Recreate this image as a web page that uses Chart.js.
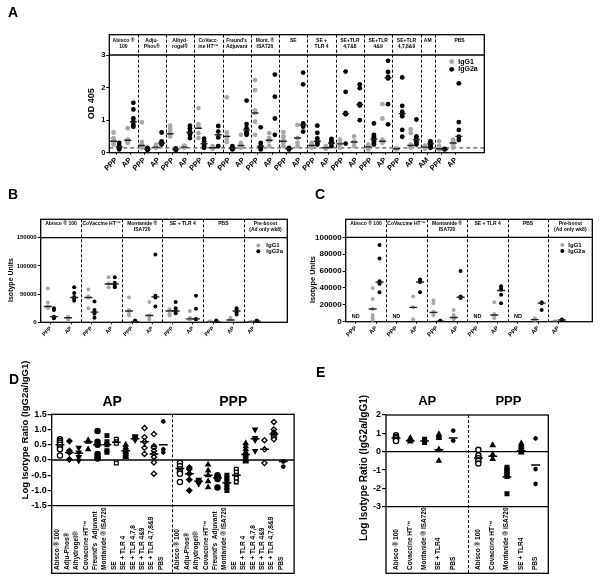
<!DOCTYPE html>
<html>
<head>
<meta charset="utf-8">
<title>Isotype responses</title>
<script src="https://cdn.jsdelivr.net/npm/chart.js@4.4.1/dist/chart.umd.min.js"></script>
<style>
  html, body { margin: 0; padding: 0; background: #fff; }
  #page { position: relative; width: 600px; height: 581px; overflow: hidden; }
  canvas { position: absolute; }
  .tag { position: absolute; font: bold 14px "Liberation Sans", Arial, sans-serif; line-height: 1; }
</style>
</head>
<body>
<div id="page">
  <canvas id="chartA" width="600" height="180" style="left:0;top:0"></canvas>
  <canvas id="chartB" width="300" height="160" style="left:0;top:180px"></canvas>
  <canvas id="chartC" width="300" height="160" style="left:300px;top:180px"></canvas>
  <canvas id="chartD" width="300" height="241" style="left:0;top:340px"></canvas>
  <canvas id="chartE" width="300" height="241" style="left:300px;top:340px"></canvas>
  <div class="tag" style="left:8px;top:5px">A</div>
  <div class="tag" style="left:8px;top:187px">B</div>
  <div class="tag" style="left:315px;top:187px">C</div>
  <div class="tag" style="left:9px;top:372px">D</div>
  <div class="tag" style="left:316px;top:365px">E</div>
</div>
<script>
const FONT = '"Liberation Sans", Arial, sans-serif';
const GREY = '#a8a8a8';
Chart.defaults.font.family = FONT;
Chart.defaults.color = '#000';

// ---- A: OD 405, one column per group x antigen ----
const aGroups = ['Abisco ®\n100', 'Adju-\nPhos®', 'Alhyd-\nrogel®', 'CoVacc-\nine HT™', "Freund's\nAdjuvant",
  'Mont. ®\nISA720', 'SE', 'SE +\nTLR 4', 'SE+TLR\n4,7&8', 'SE+TLR\n4&9', 'SE+TLR\n4,7,8&9', 'AM', 'PBS'];
const aGroupSizes = [2, 2, 2, 2, 2, 2, 2, 2, 2, 2, 2, 1, 2];
const aColumns = ['PPP', 'AP', 'PPP', 'AP', 'PPP', 'AP', 'PPP', 'AP', 'PPP', 'AP', 'PPP', 'AP', 'PPP', 'AP',
  'PPP', 'AP', 'PPP', 'AP', 'PPP', 'AP', 'PPP', 'AP', 'AM', 'PPP', 'AP'];
const aIgG1 = [
  [0.62, 0.45, 0.40, 0.35, 0.30, 0.25], [0.75, 0.40, 0.35, 0.30],
  [0.93, 0.33, 0.25, 0.20, 0.15], [0.25, 0.20, 0.15],
  [0.83, 0.75, 0.65, 0.55, 0.50], [0.22, 0.18, 0.15],
  [1.37, 0.88, 0.82, 0.60, 0.45], [0.20, 0.15, 0.12],
  [1.70, 0.62, 0.50, 0.42, 0.33], [0.55, 0.30, 0.20, 0.15],
  [2.23, 1.92, 1.30, 1.22, 0.95, 0.55], [0.60, 0.45, 0.35, 0.20],
  [0.63, 0.50, 0.42, 0.35, 0.30, 0.20], [0.85, 0.45, 0.30, 0.20],
  [0.30, 0.25, 0.20, 0.15], [0.20, 0.15, 0.12],
  [0.40, 0.30, 0.20, 0.15], [0.50, 0.35, 0.30, 0.20],
  [0.25, 0.20, 0.15, 0.10], [1.49, 1.05, 0.40, 0.35, 0.30],
  [0.15, 0.12, 0.10], [0.72, 0.60, 0.25, 0.20, 0.15],
  [0.22, 0.18, 0.15, 0.12],
  [0.35, 0.20, 0.15, 0.10], [0.40, 0.35, 0.25, 0.20, 0.15]
];
const aIgG2a = [
  [0.30, 0.22, 0.18, 0.14, 0.10], [1.53, 1.33, 1.05, 0.95, 0.85, 0.80],
  [0.15, 0.12, 0.10, 0.08], [0.62, 0.35, 0.30, 0.28, 0.25],
  [0.13, 0.10, 0.08], [0.83, 0.75, 0.65, 0.60, 0.55, 0.45],
  [0.43, 0.35, 0.25, 0.20, 0.15], [0.82, 0.65, 0.47, 0.20],
  [0.20, 0.15, 0.12, 0.10], [1.60, 0.88, 0.75, 0.65, 0.60, 0.55],
  [0.78, 0.30, 0.20, 0.15, 0.10], [2.40, 1.72, 1.05, 0.55],
  [0.15, 0.12, 0.10], [2.46, 2.10, 0.90, 0.80, 0.65],
  [0.83, 0.61, 0.44, 0.35, 0.30, 0.25], [0.42, 0.38, 0.32, 0.28, 0.20],
  [2.49, 1.87, 1.22, 1.18, 0.28], [2.10, 1.98, 1.50, 1.45, 1.00],
  [0.90, 0.55, 0.50, 0.45, 0.40, 0.35, 0.30, 0.25], [2.82, 2.48, 2.33, 2.28, 1.49, 0.87],
  [2.31, 1.44, 1.26, 1.20, 1.12, 0.70, 0.49], [1.02, 0.50, 0.45, 0.35, 0.30, 0.25],
  [0.35, 0.30, 0.25, 0.20, 0.15],
  [0.12, 0.10], [2.13, 0.94, 0.70, 0.49, 0.39]
];
const aIgG1Median = [0.35, 0.38, 0.22, 0.17, 0.58, 0.17, 0.75, 0.15, 0.50, 0.22, 1.22, 0.38,
  0.35, 0.45, 0.22, 0.15, 0.27, 0.33, 0.18, 0.35, 0.12, 0.22, 0.17, 0.12, 0.30];
const aIgG2aMedian = [0.18, 0.95, 0.11, 0.30, 0.10, 0.62, 0.28, 0.55, 0.13, 0.70, 0.20, null,
  0.12, 0.85, 0.35, 0.30, 1.20, 1.48, 0.42, 2.30, 1.20, 0.40, 0.27, 0.10, 0.50];
const aCutoff = 0.15;

// ---- B: isotype units, week 6 ----
const bGroups = ['Abisco ® 100', 'CoVaccine HT™', 'Montanide ®\nISA720', 'SE + TLR 4', 'PBS', 'Pre-boost\n(Ad only wk8)'];
const bGroupSizes = [2, 2, 2, 2, 2, 1];
const bColumns = ['PPP', 'AP', 'PPP', 'AP', 'PPP', 'AP', 'PPP', 'AP', 'PPP', 'AP', 'AP'];
const bIgG1 = [
  [60000, 35000, 28000, 25000], [10000, 8000, 5000],
  [58000, 46000, 44000, 25000], [80000, 69000, 62000],
  [44000, 22000, 15000, 12000], [36000, 12000, 8000, 5000],
  [23000, 15000, 12000], [20000, 8000, 5000, 4000],
  [2000, 1000, 500], [8000, 5000, 3000],
  [1000, 500]
];
const bIgG2a = [
  [25000, 22000, 10000, 8000, 7000], [62000, 52000, 45000, 42000, 38000],
  [37000, 22000, 18000, 15000, 8000], [80000, 70000, 65000, 62000],
  [3000, 1000, 500], [120000, 47000, 44000, 28000],
  [36000, 25000, 20000, 16000], [47000, 24000, 6000, 5000],
  [3000, 1500, 500], [25000, 22000, 18000, 14000],
  [3000, 2000, 1500]
];
const bIgG1Median = [28000, 8000, 44000, 68000, 20000, 12000, 20000, 6000, 500, 4000, 500];
const bIgG2aMedian = [10000, 44000, 18000, 68000, 1000, 45000, 20000, 6000, 1000, 20000, 2000];

// ---- C: isotype units, later bleed ----
const cGroups = bGroups;
const cGroupSizes = bGroupSizes;
const cColumns = bColumns;
const cIgG1 = [
  [], [40000, 27000, 15000, 8000, 5000, 2000],
  [], [30000, 17000, 3000],
  [25000, 22000, 12000, 10000, 8000], [14000, 8000, 5000, 3000],
  [], [23000, 9000, 7000, 4000],
  [], [4000, 2000],
  [500, 0]
];
const cIgG2a = [
  [], [91000, 75000, 48000, 46000, 45000, 35000],
  [], [50000, 48000, 47000, 35000],
  [1000, 500], [60000, 30000, 29000, 28000],
  [], [42000, 40000, 38000, 32000, 22000],
  [], [23000, 22000, 14000],
  [2500, 1500]
];
const cIgG1Median = [null, 15000, null, 17000, 11000, 5000, null, 8000, null, 2500, 300];
const cIgG2aMedian = [null, 47000, null, 47000, 500, 29000, null, 37000, null, 22000, 2000];
const cNotDone = [0, 2, 6, 8];
const cNotDoneLevel = 6000;

// ---- D: log isotype ratio, all adjuvants ----
const dSides = ['AP', 'PPP'];
const dLabels = ['Abisco ® 100', 'Adju-Phos®', 'Alhydrogel®', 'Covaccine HT™', "Freund's  Adjuvant",
  'Montanide ® ISA720', 'SE', 'SE + TLR 4', 'SE + TLR 4,7,8', 'SE + TLR 4&9', 'SE + TLR 4,7,8&9', 'PBS'];
const dRatio = [
  [0.68, 0.62, 0.57, 0.50, 0.42, 0.35, 0.15], [0.62, 0.30, 0.25, 0.02], [0.40, 0.25, 0.10, -0.02],
  [0.65, 0.60, 0.35], [0.95, 0.60, 0.50, 0.20, 0.10, 0.05], [0.80, 0.60, 0.50, 0.30, 0.25],
  [0.68, 0.60, 0.55, -0.10], [0.50, 0.42, 0.36, 0.30, 0.25, 0.20, 0.15, 0.10], [0.78, 0.74, 0.70, 0.65],
  [1.05, 0.75, 0.60, 0.40, 0.20], [0.85, 0.45, 0.40, 0.30, 0.20, 0.10, -0.08, -0.45], [1.27, 0.35, 0.25],
  [-0.10, -0.20, -0.30, -0.40, -0.45, -0.72], [-0.25, -0.30, -0.45, -0.65, -1.00], [-0.65, -0.70, -0.78],
  [-0.15, -0.35, -0.50, -0.70, -0.90], [-0.50, -0.55, -0.62, -0.90], [-0.50, -0.60, -0.70, -0.80, -0.90, -1.00],
  [-0.30, -0.40, -0.50, -0.60, -0.72], [0.55, 0.45, 0.35, 0.25, 0.18, 0.12, 0.05, 0.00, -0.05], [1.00, 0.72, 0.65, 0.30],
  [0.65, 0.35, -0.10], [1.25, 1.00, 0.90, 0.85, 0.80, 0.75, 0.68], [-0.05, -0.22]
];
const dMedian = [0.50, 0.25, 0.22, 0.60, 0.50, 0.50, 0.58, 0.30, 0.70, 0.60, 0.20, 0.50,
  -0.28, -0.45, -0.70, -0.50, -0.58, -0.75, -0.50, 0.18, 0.70, 0.35, 0.85, -0.05];

// ---- E: log isotype ratio, selected adjuvants ----
const eSides = ['AP', 'PPP'];
const eLabels = ['Abisco ® 100', 'Covaccine HT™', 'Montanide ® ISA720', 'SE + TLR4', 'PBS'];
const eRatio = [
  [0.90, 0.80, 0.75, 0.65, 0.58], [0.75, 0.65, 0.55], [0.68, 0.60, 0.50], [0.95, 0.85, 0.75, 0.12, -0.50], [1.15, 0.60],
  [0.10, -0.20, -0.35, -0.50, -0.65], [0.35, -0.15, -0.40], [-0.85, -0.95, -1.05, -1.15, -1.25, -1.35, -2.30],
  [0.45, 0.35, 0.25, 0.15, 0.05, -0.05], [0.73, -0.95, -1.76]
];
const eMedian = [0.75, 0.60, 0.58, 0.10, 0.75, -0.35, -0.25, -1.38, 0.05, -0.73];

// marker per adjuvant (same on both sides)
const dMarkers = [
  { style: 'circle', fill: false }, { style: 'rectRot', fill: true }, { style: 'triangle', fill: true, rot: 180 },
  { style: 'triangle', fill: true }, { style: 'circle', fill: true }, { style: 'rect', fill: true },
  { style: 'rect', fill: false }, { style: 'triangle', fill: true }, { style: 'triangle', fill: true, rot: 180 },
  { style: 'rectRot', fill: false }, { style: 'rectRot', fill: false }, { style: 'star', fill: false }
];
const eMarkers = [
  { style: 'circle', fill: false }, { style: 'triangle', fill: true }, { style: 'rect', fill: true },
  { style: 'triangle', fill: true }, { style: 'star', fill: false }
];

function edgesFrom(sizes, max) {
  const e = [0];
  sizes.forEach(s => e.push(e[e.length - 1] + s));
  e[e.length - 1] = max;
  return e;
}

function dotDatasets(g1, g2, m1, m2, shift, r, mr) {
  const pts = (cols, dx) => cols.flatMap((vals, i) => vals.map(v => ({ x: i + 0.5 + dx, y: v })));
  const med = (arr, dx) => arr.map((v, i) => v === null ? null : { x: i + 0.5 + dx, y: v }).filter(Boolean);
  const dot = (data, c) => ({ data, pointRadius: r, pointBackgroundColor: c, pointBorderColor: c, pointBorderWidth: 0 });
  const line = data => ({ data, order: -1, pointStyle: 'line', pointRadius: mr, pointBorderColor: '#222', pointBorderWidth: 1.4 });
  return [dot(pts(g1, -shift), GREY), dot(pts(g2, shift), '#000'), line(med(m1, -shift)), line(med(m2, shift))];
}

function dotOptions(o) {
  return {
    responsive: false, animation: false, events: [],
    layout: { padding: o.padding },
    plugins: { legend: { display: false }, tooltip: { enabled: false } },
    scales: {
      x: {
        type: 'linear', min: 0, max: o.xMax,
        afterBuildTicks: s => { s.ticks = o.columns.map((_, i) => ({ value: i + 0.5 })); },
        afterFit: s => { s.height = o.xHeight; },
        ticks: { autoSkip: false, minRotation: 45, maxRotation: 45, padding: 1, color: '#000',
          font: { size: o.xFont, weight: 'bold' }, callback: (v, i) => o.columns[i] },
        grid: { drawOnChartArea: false, tickLength: 2, color: '#000' },
        border: { display: false }
      },
      y: {
        min: 0, max: o.yMax,
        afterFit: s => { s.width = o.yWidth; },
        ticks: { stepSize: o.yStep, padding: 1, color: '#000', font: { size: o.tickFont, weight: 'bold' }, callback: v => String(v) },
        grid: { drawOnChartArea: false, tickLength: 3, color: '#000' },
        border: { display: false },
        title: { display: true, text: o.title, color: '#000', font: { size: o.titleFont, weight: 'bold' }, padding: 0 }
      }
    }
  };
}

// header boxes, dashed group lines, legend and ND marks for A, B, C
function groupFrame(o) {
  return {
    id: 'groupFrame',
    beforeDatasetsDraw(chart) {
      const { ctx, chartArea: a, scales: { x, y } } = chart;
      ctx.save();
      ctx.strokeStyle = '#000';
      ctx.lineWidth = 1;
      ctx.setLineDash([3, 2]);
      o.edges.slice(1, -1).forEach(e => {
        const px = Math.round(x.getPixelForValue(e)) + 0.5;
        ctx.beginPath(); ctx.moveTo(px, o.headerTop); ctx.lineTo(px, a.bottom); ctx.stroke();
      });
      if (o.cutoff !== undefined) {
        const py = y.getPixelForValue(o.cutoff);
        ctx.strokeStyle = '#555'; ctx.lineWidth = 1.2; ctx.setLineDash([4, 3]);
        ctx.beginPath(); ctx.moveTo(a.left, py); ctx.lineTo(a.right, py); ctx.stroke();
      }
      ctx.setLineDash([]);
      ctx.fillStyle = '#000';
      ctx.font = 'bold ' + o.headerFont + 'px ' + FONT;
      ctx.textAlign = 'center';
      ctx.textBaseline = 'middle';
      o.groups.forEach((label, i) => {
        const cx = (x.getPixelForValue(o.edges[i]) + x.getPixelForValue(o.edges[i + 1])) / 2;
        label.split('\n').forEach((t, k) => ctx.fillText(t, cx, o.headerTop + o.headerY + k * o.headerStep));
      });
      ctx.strokeStyle = '#000';
      ctx.lineWidth = 1.3;
      ctx.strokeRect(a.left, o.headerTop, a.right - a.left, a.bottom - o.headerTop);
      ctx.beginPath(); ctx.moveTo(a.left, a.top); ctx.lineTo(a.right, a.top); ctx.stroke();
      ctx.font = 'bold ' + o.legendFont + 'px ' + FONT;
      ctx.textAlign = 'left';
      [['IgG1', GREY], ['IgG2a', '#000']].forEach(([t, c], k) => {
        const ly = a.top + o.legend.y + k * o.legend.step;
        ctx.fillStyle = c;
        ctx.beginPath(); ctx.arc(a.right - o.legend.dot, ly, o.legend.r, 0, 2 * Math.PI); ctx.fill();
        ctx.fillStyle = '#000';
        ctx.fillText(t, a.right - o.legend.text, ly);
      });
      if (o.notDone) {
        ctx.font = 'bold 5.5px ' + FONT;
        ctx.textAlign = 'center';
        o.notDone.forEach(i => ctx.fillText('ND', x.getPixelForValue(i + 0.5), y.getPixelForValue(o.notDoneLevel)));
      }
      ctx.restore();
    }
  };
}

function ratioDatasets(cols, meds, xs, markers, r) {
  const sets = cols.map((vals, i) => {
    const m = markers[i % markers.length];
    return {
      data: vals.map(v => ({ x: xs[i], y: v })),
      pointStyle: m.style, pointRotation: m.rot || 0,
      pointRadius: m.style === 'star' ? r * 0.9 : r,
      pointBackgroundColor: m.fill ? '#000' : '#fff', pointBorderColor: '#000', pointBorderWidth: 1.3
    };
  });
  sets.push({
    data: meds.map((v, i) => ({ x: xs[i], y: v })), order: -1,
    pointStyle: 'line', pointRadius: r * 1.7, pointBorderColor: '#000', pointBorderWidth: 1.5
  });
  return sets;
}

function ratioOptions(o) {
  return {
    responsive: false, animation: false, events: [],
    layout: { padding: o.padding },
    plugins: { legend: { display: false }, tooltip: { enabled: false } },
    scales: {
      x: { type: 'linear', min: 0, max: o.xMax, afterFit: s => { s.height = o.xHeight; },
        ticks: { display: false }, grid: { display: false }, border: { display: false } },
      y: { min: o.yMin, max: o.yMax, afterFit: s => { s.width = o.yWidth; },
        ticks: { stepSize: o.yStep, padding: 1, color: '#000', font: { size: 9, weight: 'bold' }, callback: o.fmt },
        grid: { drawOnChartArea: false, tickLength: 4, color: '#000', lineWidth: 1.2 },
        border: { display: false } }
    }
  };
}

// frame, zero line, side titles, y title and category labels for D and E
function ratioFrame(o) {
  return {
    id: 'ratioFrame',
    beforeDatasetsDraw(chart) {
      const { ctx, chartArea: a, scales: { x, y } } = chart;
      const sx = Math.round(x.getPixelForValue(o.split)) + 0.5;
      const zy = y.getPixelForValue(0);
      const seg = (x1, y1, x2, y2) => { ctx.beginPath(); ctx.moveTo(x1, y1); ctx.lineTo(x2, y2); ctx.stroke(); };
      ctx.save();
      ctx.strokeStyle = '#000';
      ctx.lineWidth = 1;
      ctx.setLineDash([3, 2]);
      seg(sx, a.top, sx, o.boxBottom);
      ctx.setLineDash([]);
      ctx.lineWidth = 1.3;
      ctx.strokeRect(a.left, a.top, a.right - a.left, o.boxBottom - a.top);
      seg(a.left, a.bottom, a.right, a.bottom);
      seg(a.left, zy, a.right, zy);
      ctx.fillStyle = '#000';
      ctx.textAlign = 'center';
      ctx.textBaseline = 'middle';
      ctx.font = 'bold ' + o.sideFont + 'px ' + FONT;
      ctx.fillText(o.sides[0], (a.left + sx) / 2, o.sideY);
      ctx.fillText(o.sides[1], (sx + a.right) / 2, o.sideY);
      ctx.save();
      ctx.translate(o.yTitleX, o.yTitleY);
      ctx.rotate(-Math.PI / 2);
      ctx.font = 'bold ' + o.yTitleFont + 'px ' + FONT;
      ctx.fillText('Log Isotype Ratio (IgG2a/IgG1)', 0, 0);
      ctx.restore();
      ctx.font = 'bold 6.5px ' + FONT;
      ctx.textAlign = 'left';
      ctx.textBaseline = 'alphabetic';
      o.xs.forEach((v, i) => {
        ctx.save();
        ctx.translate(x.getPixelForValue(v) + o.labelShift, o.labelBase);
        ctx.rotate(-Math.PI / 2);
        ctx.fillText(o.labels[i % o.labels.length], 0, 0);
        ctx.restore();
      });
      ctx.restore();
    }
  };
}

// ---------- A ----------
const aXMax = 26.5;
new Chart(document.getElementById('chartA'), {
  type: 'scatter',
  data: { datasets: dotDatasets(aIgG1, aIgG2a, aIgG1Median, aIgG2aMedian, 0.2, 2.4, 3.5) },
  options: dotOptions({
    padding: { left: 86, top: 55, right: 115.7, bottom: 0 }, yWidth: 23.3, xHeight: 27.3,
    xMax: aXMax, yMax: 3, yStep: 1, columns: aColumns, xFont: 7.5, tickFont: 7.5, title: 'OD 405', titleFont: 9
  }),
  plugins: [groupFrame({
    groups: aGroups, edges: edgesFrom(aGroupSizes, aXMax), headerTop: 34.7, headerY: 5.5, headerStep: 6.5, headerFont: 5,
    cutoff: aCutoff, legendFont: 7, legend: { y: 6.7, step: 7.6, dot: 32.6, text: 26, r: 2.4 }
  })]
});

// ---------- B ----------
const bXMax = 12.15;
new Chart(document.getElementById('chartB'), {
  type: 'scatter',
  data: { datasets: dotDatasets(bIgG1, bIgG2a, bIgG1Median, bIgG2aMedian, 0.15, 2, 4) },
  options: dotOptions({
    padding: { left: 6.5, top: 57.7, right: 12.7, bottom: 0 }, yWidth: 34.2, xHeight: 17.7,
    xMax: bXMax, yMax: 150000, yStep: 50000, columns: bColumns, xFont: 5.5, tickFont: 6, title: 'Isotype Units', titleFont: 7
  }),
  plugins: [groupFrame({
    groups: bGroups, edges: edgesFrom(bGroupSizes, bXMax), headerTop: 39.3, headerY: 4.5, headerStep: 6, headerFont: 5,
    legendFont: 6, legend: { y: 7.8, step: 5.7, dot: 29, text: 21, r: 2 }
  })]
});

// ---------- C ----------
const cXMax = 12.17;
new Chart(document.getElementById('chartC'), {
  type: 'scatter',
  data: { datasets: dotDatasets(cIgG1, cIgG2a, cIgG1Median, cIgG2aMedian, 0.17, 2, 4) },
  options: dotOptions({
    padding: { left: 8.5, top: 57.3, right: 7.7, bottom: 0 }, yWidth: 37.2, xHeight: 18.3,
    xMax: cXMax, yMax: 100000, yStep: 20000, columns: cColumns, xFont: 6, tickFont: 8, title: 'Isotype Units', titleFont: 7.5
  }),
  plugins: [groupFrame({
    groups: cGroups, edges: edgesFrom(cGroupSizes, cXMax), headerTop: 39.3, headerY: 4.5, headerStep: 6, headerFont: 5,
    legendFont: 6, legend: { y: 7.7, step: 6, dot: 30, text: 24, r: 2 },
    notDone: cNotDone, notDoneLevel: cNotDoneLevel
  })]
});

// ---------- D ----------
const dX = dLabels.map((_, i) => i + 0.88).concat(dLabels.map((_, i) => i + 13.65));
new Chart(document.getElementById('chartD'), {
  type: 'scatter',
  data: { datasets: ratioDatasets(dRatio, dMedian, dX, dMarkers, 2.6) },
  options: ratioOptions({
    padding: { left: 0, top: 74.3, right: 5.7, bottom: 0 }, yWidth: 51.7, xHeight: 75.3,
    xMax: 25.8, yMin: -1.5, yMax: 1.5, yStep: 0.5, fmt: v => v.toFixed(1)
  }),
  plugins: [ratioFrame({
    split: 12.77, boxBottom: 233.3, sides: dSides, sideY: 61.7, sideFont: 14,
    yTitleX: 25, yTitleY: 90, yTitleFont: 9.5, xs: dX, labels: dLabels, labelBase: 230, labelShift: -0.5
  })]
});

// ---------- E ----------
const eX = eLabels.map((_, i) => i + 0.7).concat(eLabels.map((_, i) => i + 6.46));
new Chart(document.getElementById('chartE'), {
  type: 'scatter',
  data: { datasets: ratioDatasets(eRatio, eMedian, eX, eMarkers, 2.6) },
  options: ratioOptions({
    padding: { left: 0, top: 75, right: 51.7, bottom: 0 }, yWidth: 86, xHeight: 74.3,
    xMax: 11.35, yMin: -3, yMax: 2, yStep: 1, fmt: v => String(v)
  }),
  plugins: [ratioFrame({
    split: 5.76, boxBottom: 233.3, sides: eSides, sideY: 61.7, sideFont: 13,
    yTitleX: 64.3, yTitleY: 128, yTitleFont: 10, xs: eX, labels: eLabels, labelBase: 230, labelShift: 1.5
  })]
});
</script>
</body>
</html>
